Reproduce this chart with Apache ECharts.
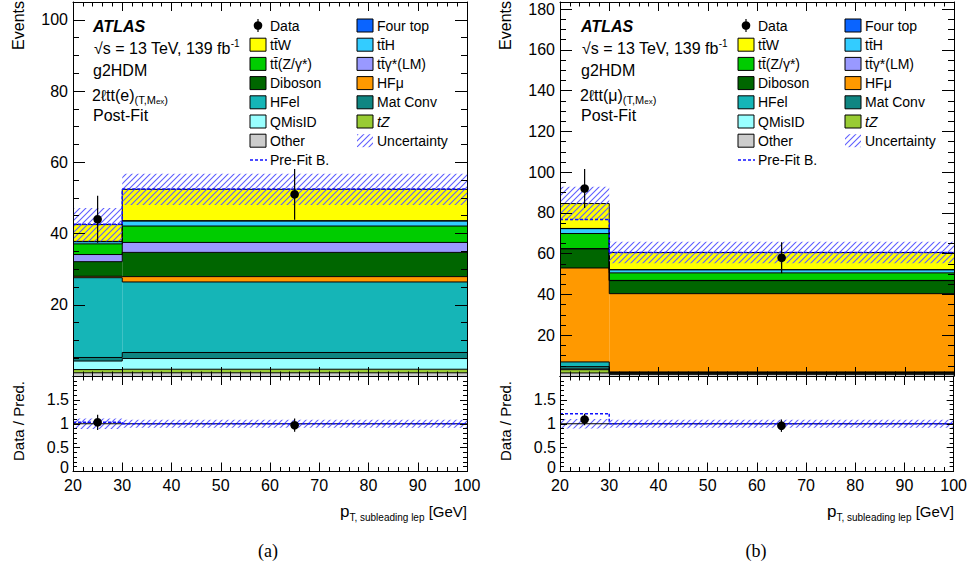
<!DOCTYPE html>
<html>
<head>
<meta charset="utf-8">
<script src="https://cdn.jsdelivr.net/npm/echarts@6/dist/echarts.min.js"></script>
<style>
html, body { margin: 0; padding: 0; background: #fff; }
#main { width: 970px; height: 575px; }
</style>
</head>
<body>
<div id="main"></div>
<script>
const FF = "'Liberation Sans', Arial, Helvetica, sans-serif";
const edges = [20, 30, 100];

// (a) 2l tt(e), post-fit yields per bin
const otherA = [0.9, 0.9];
const tZA = [0.9, 1.0];
const qmisidA = [2.4, 3.0];
const matConvA = [1.0, 1.7];
const hfelA = [22.4, 19.8];
const hfmuA = [0.4, 1.5];
const dibosonA = [4.1, 6.8];
const ttgA = [2.0, 2.8];
const ttZA = [3.0, 4.6];
const ttHA = [0.6, 1.4];
const fourTopA = [0.1, 0.1];
const ttWA = [4.7, 8.8];
const uncA = [4.7, 4.4];
const preFitA = [42.6, 52.5];
const dataA = [44, 51];
const dataErrA = [6.6, 7.1];
const ratioA = [1.03, 0.97];
const ratioErrA = [0.16, 0.14];
const ratioUncA = [0.11, 0.085];
const ratioPreA = [1.03, 1.0];

// (b) 2l tt(mu)
const otherB = [1.5, 0.8];
const tZB = [1.6, 0.5];
const qmisidB = [0.4, 0.2];
const matConvB = [1.1, 0.2];
const hfelB = [2.3, 0.3];
const hfmuB = [46.1, 38.4];
const dibosonB = [9.4, 6.4];
const ttgB = [0.1, 0.1];
const ttZB = [7.4, 3.7];
const ttHB = [2.4, 1.5];
const fourTopB = [0.1, 0.1];
const ttWB = [12.2, 8.4];
const uncB = [8.2, 5.3];
const preFitB = [76.8, 60.6];
const dataB = [92, 58];
const dataErrB = [9.6, 7.6];
const ratioB = [1.09, 0.96];
const ratioErrB = [0.12, 0.13];
const ratioUncB = [0.10, 0.085];
const ratioPreB = [1.21, 1.0];

const colors = {
  other: '#cccccc', tZ: '#99cc33', qmisid: '#99ffff', matConv: '#0f8682',
  hfel: '#15b5b7', hfmu: '#ff9900', diboson: '#006600', ttg: '#9999ff',
  ttZ: '#00cc00', ttH: '#33ccff', fourTop: '#0a64ff', ttW: '#ffff00'
};

// hatch pattern for uncertainty
const hc = document.createElement('canvas');
hc.width = 6; hc.height = 6;
const hx = hc.getContext('2d');
hx.strokeStyle = '#5f5fff';
hx.lineWidth = 1.1;
hx.beginPath();
hx.moveTo(0, 6); hx.lineTo(6, 0);
hx.moveTo(-1, 1); hx.lineTo(1, -1);
hx.moveTo(5, 7); hx.lineTo(7, 5);
hx.stroke();
const hatch = { image: hc.toDataURL(), repeat: 'repeat', imageWidth: 6, imageHeight: 6 };

function bandRender(color) {
  return function (params, api) {
    const x0 = api.value(0), x1 = api.value(1), lo = api.value(2), hi = api.value(3), prev = api.value(4);
    const a = api.coord([x0, hi]), b = api.coord([x1, lo]);
    const ln = { stroke: '#000', lineWidth: 1 };
    const ch = [{ type: 'rect', shape: { x: a[0], y: a[1], width: b[0] - a[0], height: b[1] - a[1] }, style: { fill: color } }];
    ch.push({ type: 'line', z2: 10, shape: { x1: a[0], y1: a[1], x2: b[0], y2: a[1] }, style: ln });
    if (prev >= 0) {
      const p = api.coord([x0, prev]);
      ch.push({ type: 'line', z2: 10, shape: { x1: a[0], y1: p[1], x2: a[0], y2: a[1] }, style: ln });
    }
    return { type: 'group', children: ch };
  };
}

function hatchRender(params, api) {
  const a = api.coord([api.value(0), api.value(3)]), b = api.coord([api.value(1), api.value(2)]);
  return { type: 'rect', shape: { x: a[0], y: a[1], width: b[0] - a[0], height: b[1] - a[1] }, style: { fill: hatch } };
}

function dashRender(params, api) {
  const x0 = api.value(0), x1 = api.value(1), v = api.value(2), prev = api.value(3);
  const a = api.coord([x0, v]), b = api.coord([x1, v]);
  const st = { stroke: '#1010ff', lineWidth: 1.5, lineDash: [3, 2] };
  const ch = [{ type: 'line', shape: { x1: a[0], y1: a[1], x2: b[0], y2: b[1] }, style: st }];
  if (prev >= 0) {
    const p = api.coord([x0, prev]);
    ch.push({ type: 'line', shape: { x1: a[0], y1: p[1], x2: a[0], y2: a[1] }, style: st });
  }
  return { type: 'group', children: ch };
}

function pointRender(params, api) {
  const x = api.value(0), y = api.value(1), e = api.value(2);
  const c = api.coord([x, y]), t = api.coord([x, y + e]), b = api.coord([x, y - e]);
  return { type: 'group', children: [
    { type: 'line', shape: { x1: c[0], y1: t[1], x2: c[0], y2: b[1] }, style: { stroke: '#000', lineWidth: 1.2 } },
    { type: 'circle', shape: { cx: c[0], cy: c[1], r: 4.3 }, style: { fill: '#000' } }
  ] };
}

function lineRender(params, api) {
  const a = api.coord([api.value(0), api.value(2)]), b = api.coord([api.value(1), api.value(2)]);
  return { type: 'line', shape: { x1: a[0], y1: a[1], x2: b[0], y2: b[1] }, style: { stroke: '#000', lineWidth: 1 } };
}

function custom(xi, yi, z, data, renderItem) {
  return { type: 'custom', xAxisIndex: xi, yAxisIndex: yi, z: z, silent: true, animation: false,
    data: data, renderItem: renderItem };
}

const dataX = [25, 65];

function panelSeries(stack, unc, pre, dat, datErr, rat, ratErr, ratUnc, ratPre, xm, ym, xr, yr) {
  const out = [];
  let base = [0, 0];
  stack.forEach(function (s) {
    const vals = s[0];
    const top = base.map(function (b, i) { return b + vals[i]; });
    const data = vals.map(function (v, i) { return [edges[i], edges[i + 1], base[i], top[i], i > 0 ? top[i - 1] : -1]; });
    out.push(custom(xm, ym, 2, data, bandRender(s[1])));
    base = top;
  });
  const total = base;
  out.push(custom(xm, ym, 3, total.map(function (t, i) { return [edges[i], edges[i + 1], t - unc[i], t + unc[i]]; }), hatchRender));
  out.push(custom(xm, ym, 4, pre.map(function (v, i) { return [edges[i], edges[i + 1], v, i > 0 ? pre[i - 1] : -1]; }), dashRender));
  out.push(custom(xm, ym, 5, dat.map(function (v, i) { return [dataX[i], v, datErr[i]]; }), pointRender));
  // ratio
  out.push(custom(xr, yr, 3, ratUnc.map(function (u, i) { return [edges[i], edges[i + 1], 1 - u, 1 + u]; }), hatchRender));
  out.push(custom(xr, yr, 4, [[20, 100, 1]], lineRender));
  out.push(custom(xr, yr, 4, ratPre.map(function (v, i) { return [edges[i], edges[i + 1], v, i > 0 ? ratPre[i - 1] : -1]; }), dashRender));
  out.push(custom(xr, yr, 5, rat.map(function (v, i) { return [dataX[i], v, ratErr[i]]; }), pointRender));
  return out;
}

const stackA = [[otherA, colors.other], [tZA, colors.tZ], [qmisidA, colors.qmisid], [matConvA, colors.matConv],
  [hfelA, colors.hfel], [hfmuA, colors.hfmu], [dibosonA, colors.diboson], [ttgA, colors.ttg],
  [ttZA, colors.ttZ], [ttHA, colors.ttH], [fourTopA, colors.fourTop], [ttWA, colors.ttW]];
const stackB = [[otherB, colors.other], [tZB, colors.tZ], [qmisidB, colors.qmisid], [matConvB, colors.matConv],
  [hfelB, colors.hfel], [hfmuB, colors.hfmu], [dibosonB, colors.diboson], [ttgB, colors.ttg],
  [ttZB, colors.ttZ], [ttHB, colors.ttH], [fourTopB, colors.fourTop], [ttWB, colors.ttW]];

// axes
const tickStyle = { color: '#000', width: 1 };
function xAxes(g, ratio) {
  const base = { gridIndex: g, type: 'value', min: 20, max: 100, interval: 10, z: 10,
    axisLine: { show: true, onZero: false, lineStyle: tickStyle },
    axisTick: { show: true, inside: true, length: 9, lineStyle: tickStyle },
    minorTick: { show: true, splitNumber: 5, length: 4.5, lineStyle: tickStyle },
    splitLine: { show: false }, minorSplitLine: { show: false } };
  return [
    Object.assign({}, base, { position: 'bottom',
      axisLabel: ratio ? { show: true, color: '#000', fontFamily: FF, fontSize: 16, margin: 6 } : { show: false } }),
    Object.assign({}, base, { position: 'top', axisLabel: { show: false } })
  ];
}
function yMain(g, max) {
  const common = { gridIndex: g, type: 'value', min: 0, max: max, z: 10, splitLine: { show: false } };
  function major(pos) {
    return Object.assign({}, common, { position: pos, interval: 20,
      axisLine: { show: true, onZero: false, lineStyle: tickStyle },
      axisTick: { show: true, inside: true, length: 12, lineStyle: tickStyle },
      axisLabel: pos === 'left' ? { show: true, color: '#000', fontFamily: FF, fontSize: 16, margin: 5,
        formatter: function (v) { return (v > 0 && v % 20 === 0) ? String(v) : ''; } } : { show: false } });
  }
  function minor(pos) {
    return Object.assign({}, common, { position: pos, interval: 5,
      axisLine: { show: false }, axisTick: { show: true, inside: true, length: 6, lineStyle: tickStyle },
      axisLabel: { show: false } });
  }
  return [major('left'), minor('left'), major('right'), minor('right')];
}
function yRatio(g) {
  const base = { gridIndex: g, type: 'value', min: 0, max: 2, interval: 0.5, z: 10, splitLine: { show: false },
    axisLine: { show: true, onZero: false, lineStyle: tickStyle },
    axisTick: { show: true, inside: true, length: 7, lineStyle: tickStyle },
    minorTick: { show: true, splitNumber: 5, length: 4, lineStyle: tickStyle }, minorSplitLine: { show: false } };
  return [
    Object.assign({}, base, { position: 'left', axisLabel: { show: true, color: '#000', fontFamily: FF, fontSize: 16, margin: 4,
      rich: { z: { fontFamily: FF, fontSize: 16, color: '#000', padding: [0, 0, 9, 0] } },
      formatter: function (v) { return v >= 2 ? '' : (v === 0 ? '{z|0}' : String(v)); } } }),
    Object.assign({}, base, { position: 'right', axisLabel: { show: false } })
  ];
}

// text / legend graphics
function rs(size, extra) { return Object.assign({ fontSize: size, fontFamily: FF, fill: '#000', lineHeight: 20 }, extra || {}); }
function txt(x, y, text, font, extra) {
  return Object.assign({ type: 'text', x: x, y: y, silent: true,
    style: { text: text, font: font, fill: '#000', align: 'left', verticalAlign: 'middle' } }, extra || {});
}
function panelGraphics(dx, chan, caption, tx) {
  const el = [];
  const f14 = '14px ' + FF, f16 = '16px ' + FF;
  el.push(txt(93 + tx, 26, 'ATLAS', 'italic bold 16px ' + FF));
  el.push({ type: 'text', x: 94 + tx, y: 48, silent: true, style: {
    text: '{m|\u221As = 13 TeV, 139 fb}{s|-1}', align: 'left', verticalAlign: 'middle',
    rich: { m: rs(16), s: rs(10, { lineHeight: 12, verticalAlign: 'top' }) } } });
  el.push(txt(93 + tx, 70.5, 'g2HDM', f16));
  el.push({ type: 'text', x: 92 + tx, y: 95, silent: true, style: {
    text: '{m|2\u2113tt(' + chan + ')}{s|(T,M}{ss|ex}{s|)}', align: 'left', verticalAlign: 'middle',
    rich: { m: rs(16), s: rs(11, { lineHeight: 11, verticalAlign: 'bottom' }), ss: rs(8, { lineHeight: 9, verticalAlign: 'bottom' }) } } });
  el.push(txt(93 + tx, 115, 'Post-Fit', f16));

  // legend
  const rowY = function (i) { return 25.5 + 19.2 * i; };
  const c1b = 250 + tx, c1t = 270 + tx, c2b = 357 + tx, c2t = 377 + tx;
  el.push({ type: 'line', silent: true, shape: { x1: c1b + 8, y1: rowY(0) - 6.5, x2: c1b + 8, y2: rowY(0) + 6.5 }, style: { stroke: '#000', lineWidth: 1.2 } });
  el.push({ type: 'circle', silent: true, shape: { cx: c1b + 8, cy: rowY(0), r: 4.3 }, style: { fill: '#000' } });
  el.push(txt(c1t, rowY(0), 'Data', f14));
  const col1 = [['tt\u0304W', colors.ttW], ['tt\u0304(Z/\u03B3*)', colors.ttZ], ['Diboson', colors.diboson],
    ['HFel', colors.hfel], ['QMisID', colors.qmisid], ['Other', colors.other]];
  col1.forEach(function (c, i) {
    el.push({ type: 'rect', silent: true, shape: { x: c1b, y: rowY(i + 1) - 6.5, width: 16, height: 13 }, style: { fill: c[1], stroke: '#000', lineWidth: 1 } });
    el.push(txt(c1t, rowY(i + 1), c[0], f14));
  });
  const col2 = [['Four top', colors.fourTop], ['tt\u0304H', colors.ttH], ['tt\u0304\u03B3*(LM)', colors.ttg],
    ['HF\u03BC', colors.hfmu], ['Mat Conv', colors.matConv], ['tZ', colors.tZ]];
  col2.forEach(function (c, i) {
    el.push({ type: 'rect', silent: true, shape: { x: c2b, y: rowY(i) - 6.5, width: 16, height: 13 }, style: { fill: c[1], stroke: '#000', lineWidth: 1 } });
    el.push(txt(c2t, rowY(i), c[0], c[0] === 'tZ' ? 'italic 14px ' + FF : f14));
  });
  el.push({ type: 'rect', silent: true, shape: { x: c2b, y: rowY(6) - 6.5, width: 16, height: 13 }, style: { fill: hatch } });
  el.push(txt(c2t, rowY(6), 'Uncertainty', f14));
  el.push({ type: 'line', silent: true, shape: { x1: c1b, y1: rowY(7), x2: c1b + 17, y2: rowY(7) }, style: { stroke: '#1010ff', lineWidth: 1.5, lineDash: [3, 2] } });
  el.push(txt(c1t, rowY(7), 'Pre-Fit B.', f14));

  // axis titles
  el.push({ type: 'text', x: 18.5 + dx, y: 1, rotation: Math.PI / 2, silent: true,
    style: { text: 'Events', font: '16px ' + FF, fill: '#000', align: 'right', verticalAlign: 'middle' } });
  el.push({ type: 'text', x: 18.5 + dx, y: 421, rotation: Math.PI / 2, silent: true,
    style: { text: 'Data / Pred.', font: '15px ' + FF, fill: '#000', align: 'center', verticalAlign: 'middle' } });
  el.push({ type: 'text', x: 467 + dx, y: 511, silent: true, style: {
    text: '{p|p}{s|T, subleading lep}{u| [GeV]}', align: 'right', verticalAlign: 'middle',
    rich: { p: rs(17, { lineHeight: 22 }), s: rs(10, { lineHeight: 11, verticalAlign: 'bottom' }), u: rs(15, { lineHeight: 22 }) } } });
  el.push({ type: 'text', x: 268 + tx, y: 551, silent: true,
    style: { text: caption, font: "18px 'Liberation Serif', 'Times New Roman', serif", fill: '#000', align: 'center', verticalAlign: 'middle' } });
  return el;
}

const chart = echarts.init(document.getElementById('main'), null, { renderer: 'svg' });
chart.setOption({
  backgroundColor: '#fff',
  animation: false,
  grid: [
    { left: 73, top: 2, width: 394, height: 374 },
    { left: 73, top: 376, width: 394, height: 95.5 },
    { left: 560, top: 2, width: 394, height: 374 },
    { left: 560, top: 376, width: 394, height: 95.5 }
  ],
  xAxis: [].concat(xAxes(0, false), xAxes(1, true), xAxes(2, false), xAxes(3, true)),
  yAxis: [].concat(yMain(0, 105), yRatio(1), yMain(2, 183.5), yRatio(3)),
  series: [].concat(
    panelSeries(stackA, uncA, preFitA, dataA, dataErrA, ratioA, ratioErrA, ratioUncA, ratioPreA, 0, 0, 2, 4),
    panelSeries(stackB, uncB, preFitB, dataB, dataErrB, ratioB, ratioErrB, ratioUncB, ratioPreB, 4, 6, 6, 10)
  ),
  graphic: { elements: [].concat(panelGraphics(0, 'e', '(a)', 0), panelGraphics(487, '\u03BC', '(b)', 488)) }
});
</script>
</body>
</html>
